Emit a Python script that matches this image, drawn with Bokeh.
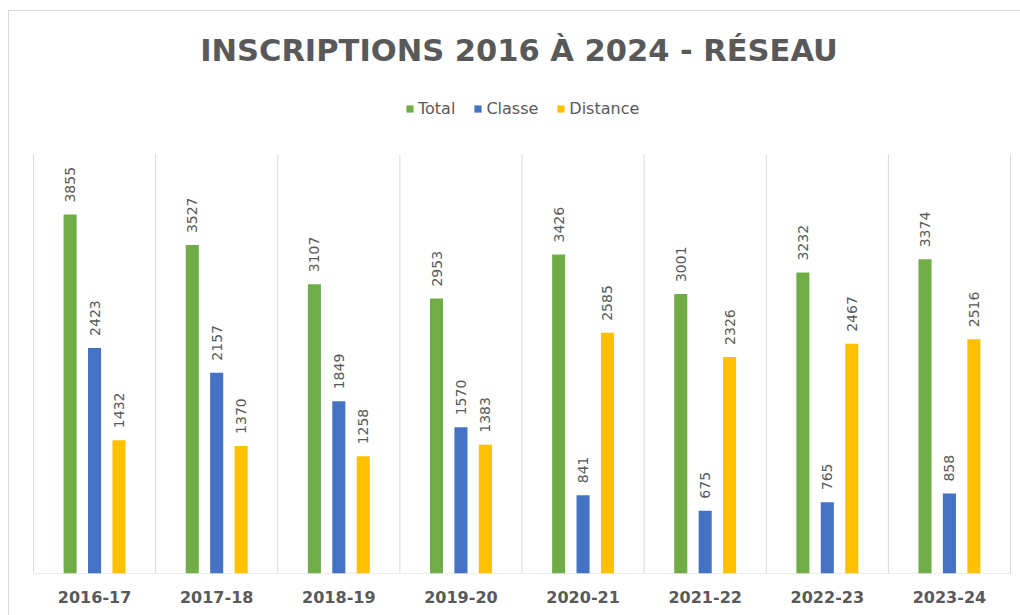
import numpy as np
from bokeh.plotting import figure
from bokeh.models import ColumnDataSource, Range1d, FixedTicker, Legend, LegendItem
from bokeh.core.properties import value
from bokeh.embed import file_html
from bokeh.resources import INLINE

categories = ["2016-17", "2017-18", "2018-19", "2019-20", "2020-21", "2021-22", "2022-23", "2023-24"]
total = [3855, 3527, 3107, 2953, 3426, 3001, 3232, 3374]
classe = [2423, 2157, 1849, 1570, 841, 675, 765, 858]
distance = [1432, 1370, 1258, 1383, 2585, 2326, 2467, 2516]
series_names = ["Total", "Classe", "Distance"]
colors = ["#70AD47", "#4472C4", "#FFC000"]
title_text = "INSCRIPTIONS 2016 À 2024 - RÉSEAU"
y_max = 4500

W, H = 1012, 605
frame_h = 562
x0_px = 24.0
cat_px = 122.125
y_scale = (frame_h - 143) / y_max

p = figure(width=W, height=H, output_backend="svg", toolbar_location=None,
           x_range=Range1d(-x0_px / cat_px, (W - x0_px) / cat_px),
           y_range=Range1d(0, frame_h / y_scale),
           min_border_left=0, min_border_right=0, min_border_top=0, min_border_bottom=H - frame_h,
           margin=(10, 0, 0, 8),
           styles={"border-top": "1px solid #d9d9d9", "border-left": "1px solid #d9d9d9"})
p.outline_line_color = None
p.background_fill_color = "white"
p.border_fill_color = "white"
p.grid.visible = False
p.yaxis.visible = False

n = len(categories)
centers = np.arange(n) + 0.5

# category dividers and baseline
bounds = np.arange(n + 1)
p.segment(x0=bounds, y0=[0] * (n + 1), x1=bounds, y1=[y_max] * (n + 1),
          line_color="#d9d9d9", line_width=1)
p.segment(x0=[bounds[0]], y0=[0], x1=[bounds[-1]], y1=[0], line_color="#d9d9d9", line_width=1)

offsets = [-0.2, 0.0, 0.2]
bar_w = 0.107
items = []
for name, vals, col, off in zip(series_names, [total, classe, distance], colors, offsets):
    src = ColumnDataSource(dict(x=centers + off, top=vals, lbl=[str(v) for v in vals]))
    r = p.vbar(x="x", top="top", width=bar_w, bottom=0, source=src,
               fill_color=col, line_color=None)
    p.text(x="x", y="top", text="lbl", source=src, angle=np.pi / 2,
           text_align="left", text_baseline="middle", y_offset=-12,
           text_font=value("DejaVu Sans"), text_font_size="14px", text_color="#595959")
    items.append(LegendItem(label=name, renderers=[r]))

# title
p.text(x=[n / 2], y=[(frame_h - 40) / y_scale], text=[title_text],
       text_align="center", text_baseline="middle", x_offset=-3, y_offset=-1,
       text_font=value("DejaVu Sans"), text_font_style="bold", text_font_size="30.5px",
       text_color="#595959")

legend = Legend(items=items, orientation="horizontal", location=(396, 455),
                glyph_width=9, glyph_height=9, label_standoff=4, spacing=18,
                padding=0, margin=0, border_line_color=None, background_fill_alpha=0,
                label_text_font="DejaVu Sans", label_text_font_size="16px",
                label_text_color="#595959", label_height=16)
p.add_layout(legend, "center")

# x axis
p.xaxis.ticker = FixedTicker(ticks=list(centers))
p.xaxis.major_label_overrides = {float(c): cat for c, cat in zip(centers, categories)}
p.xaxis.axis_line_color = None
p.xaxis.major_tick_line_color = None
p.xaxis.minor_tick_line_color = None
p.xaxis.major_label_standoff = 11
p.xaxis.major_label_text_font = "DejaVu Sans"
p.xaxis.major_label_text_font_style = "bold"
p.xaxis.major_label_text_font_size = "16px"
p.xaxis.major_label_text_color = "#595959"

open("out.html", "w").write(file_html(p, INLINE))
